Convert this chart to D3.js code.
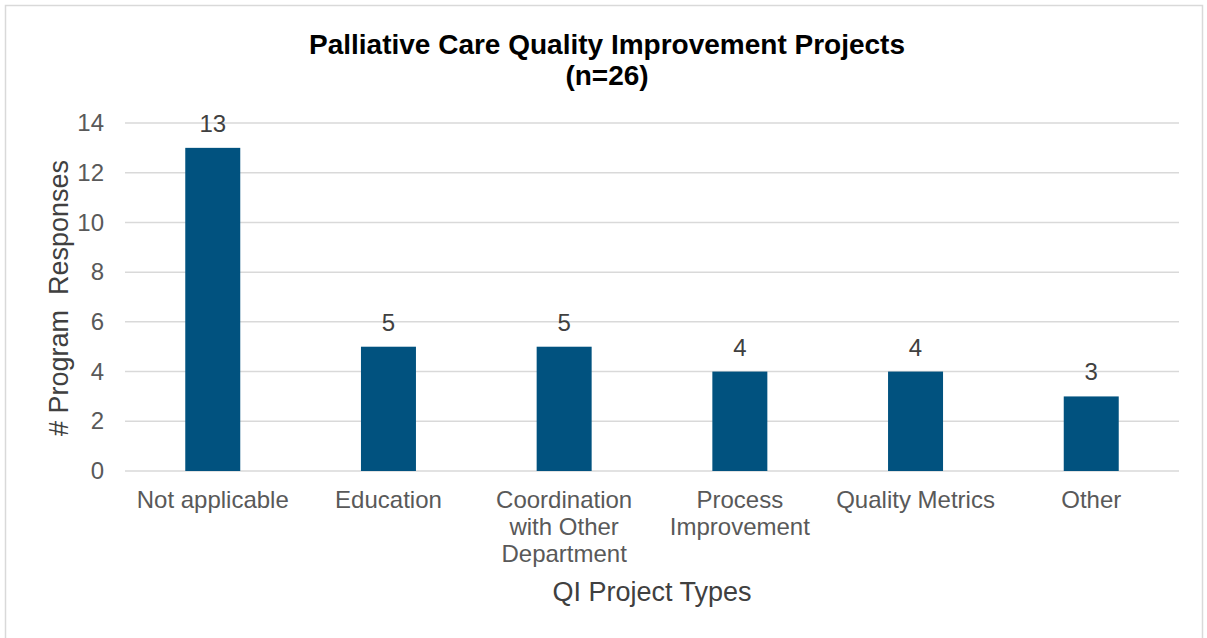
<html><head>
<style>
body { margin: 0; background: white; font-family: 'Liberation Sans', Arial, sans-serif; }
</style>
</head>
<body>
<svg id="chart" width="1207" height="638"></svg>
<script src="https://d3js.org/d3.v7.min.js"></script>
<script>
const categories = ["Not applicable", "Education", "Coordination with Other Department", "Process Improvement", "Quality Metrics", "Other"];
const categoryLines = [["Not applicable"], ["Education"], ["Coordination", "with Other", "Department"], ["Process", "Improvement"], ["Quality Metrics"], ["Other"]];
const responses = [13, 5, 5, 4, 4, 3];
const yTicks = [0, 2, 4, 6, 8, 10, 12, 14];

const svg = d3.select("#chart");
const margin = {top: 123, right: 28, bottom: 167, left: 125};
const W = 1207, H = 638;

// chart border
svg.append("rect").attr("x", 5.5).attr("y", 5.5).attr("width", 1197).attr("height", 640)
  .attr("fill", "none").attr("stroke", "#d9d9d9").attr("stroke-width", 1.5);

const x = d3.scaleBand().domain(categories).range([margin.left, W - margin.right]).paddingInner(0.687).paddingOuter(0.343);
const y = d3.scaleLinear().domain([0, 14]).range([H - margin.bottom, margin.top]);

svg.append("g").selectAll("line").data(yTicks).join("line")
  .attr("x1", margin.left).attr("x2", W - margin.right)
  .attr("y1", d => y(d)).attr("y2", d => y(d))
  .attr("stroke", "#d9d9d9").attr("stroke-width", 1.5);

const yAxis = svg.append("g").attr("transform", `translate(${margin.left},0)`)
  .call(d3.axisLeft(y).tickValues(yTicks).tickSize(0).tickPadding(21));
yAxis.select(".domain").remove();
yAxis.selectAll("text").attr("font-size", 24).attr("fill", "#595959")
  .attr("font-family", "'Liberation Sans', Arial, sans-serif");

svg.append("g").selectAll("rect").data(categories).join("rect")
  .attr("x", d => x(d)).attr("width", x.bandwidth())
  .attr("y", (d, i) => y(responses[i])).attr("height", (d, i) => y(0) - y(responses[i]))
  .attr("fill", "#01527f");

svg.append("g").selectAll("text").data(categories).join("text")
  .attr("x", d => x(d) + x.bandwidth() / 2)
  .attr("y", (d, i) => y(responses[i]) - 16)
  .attr("text-anchor", "middle").attr("font-size", 24).attr("fill", "#404040")
  .text((d, i) => responses[i]);

const xl = svg.append("g").selectAll("text").data(categories).join("text")
  .attr("x", d => x(d) + x.bandwidth() / 2)
  .attr("y", y(0) + 37)
  .attr("text-anchor", "middle").attr("font-size", 24).attr("fill", "#595959");
xl.each(function(d, i) {
  d3.select(this).selectAll("tspan").data(categoryLines[i]).join("tspan")
    .attr("x", x(d) + x.bandwidth() / 2).attr("dy", (t, j) => j === 0 ? 0 : 27).text(t => t);
});

svg.append("text").attr("x", (margin.left + W - margin.right) / 2).attr("y", 601)
  .attr("text-anchor", "middle").attr("font-size", 27).attr("fill", "#404040").text("QI Project Types");

svg.append("text").attr("transform", "translate(68,298) rotate(-90)")
  .attr("text-anchor", "middle").attr("font-size", 27).attr("fill", "#404040")
  .attr("xml:space", "preserve").style("white-space", "pre").text("# Program  Responses");

const title = svg.append("text").attr("x", 607).attr("y", 54).attr("text-anchor", "middle")
  .attr("font-size", 28).attr("font-weight", "bold").attr("fill", "#000");
title.append("tspan").attr("x", 607).text("Palliative Care Quality Improvement Projects");
title.append("tspan").attr("x", 607).attr("dy", 31).text("(n=26)");
</script>
</body>
</html>
